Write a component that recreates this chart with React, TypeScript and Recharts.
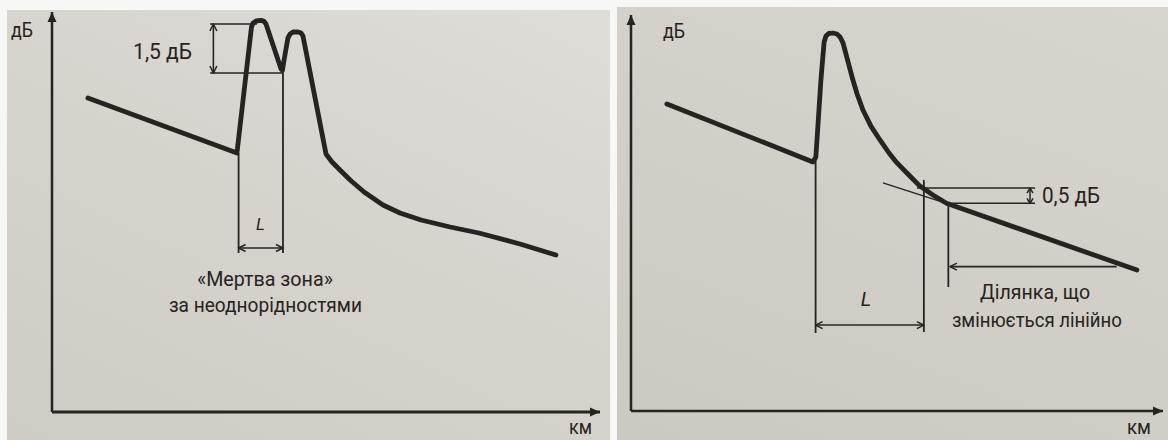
import React from 'react';
import { LineChart, Line, XAxis, YAxis, ReferenceLine, ReferenceDot } from 'recharts';

const INK = '#262321';
const FONT = "Roboto, 'DejaVu Sans', sans-serif";

// ---------- Left panel: trace with two close events (km / dB) ----------
const leftKm = [1.31, 6.75, 7.28, 7.34, 7.45, 7.63, 7.74, 7.81, 8.36, 8.41, 8.47, 8.61, 8.69, 8.8, 8.98, 9.09, 9.16, 10.0, 10.22, 10.51, 10.88, 11.39, 12.08, 12.7, 13.47, 14.53, 15.58, 17.08, 18.39];
const leftDb = [15.7, 12.95, 19.25, 19.45, 19.55, 19.58, 19.53, 19.4, 17.15, 17.08, 17.6, 18.7, 18.9, 19.0, 19.0, 18.95, 18.8, 12.9, 12.5, 12.1, 11.6, 11.0, 10.35, 9.95, 9.6, 9.25, 8.95, 8.4, 7.85];

// ---------- Right panel: trace with one reflective event ----------
const rightKm = [1.35, 6.84, 6.95, 7.14, 7.26, 7.33, 7.44, 7.59, 7.74, 7.86, 7.97, 8.12, 8.31, 8.5, 8.72, 9.02, 9.36, 9.7, 10.0, 10.41, 10.86, 11.35, 11.86, 19.02];
const rightDb = [15.51, 12.58, 12.83, 16.72, 18.64, 18.94, 19.07, 19.09, 19.04, 18.89, 18.59, 17.83, 16.87, 16.01, 15.2, 14.39, 13.69, 13.03, 12.53, 11.97, 11.36, 10.91, 10.49, 7.12];

// tangent (extension of the linear section)
const tangentKm = [9.47, 11.86];
const tangentDb = [11.52, 10.49];

// annotation values (km, dB)
const leftDeadZoneKm = [6.81, 8.43];
const leftPeakDb = [19.4, 16.95];
const rightDeadZoneKm = [6.94, 11.01];
const rightHalfDbLevels = [11.26, 10.49];
const linearStartKm = 11.93;
const linearArrowKm = [18.26, 11.99];

const leftData = leftKm.map((km, i) => ({ km, db: leftDb[i] }));
const rightData = rightKm.map((km, i) => ({ km, db: rightDb[i] }));

function head(xt: number, yt: number, xf: number, yf: number, len: number, half: number, filled: boolean, sw = 1.5) {
  const dx = xt - xf;
  const dy = yt - yf;
  const d = Math.hypot(dx, dy) || 1;
  const ux = dx / d;
  const uy = dy / d;
  const bx = xt - ux * len;
  const by = yt - uy * len;
  const px = -uy * half;
  const py = ux * half;
  if (filled) {
    return <polygon points={`${xt},${yt} ${bx + px},${by + py} ${bx - px},${by - py}`} fill={INK} />;
  }
  return (
    <polyline
      points={`${bx + px},${by + py} ${xt},${yt} ${bx - px},${by - py}`}
      fill="none"
      stroke={INK}
      strokeWidth={sw}
      strokeLinejoin="round"
    />
  );
}

const dimShape = (start: boolean, end: boolean, width = 1.6, len = 7, half = 3.5) => (p: any) => {
  const { x1, y1, x2, y2 } = p;
  return (
    <g>
      <line x1={x1} y1={y1} x2={x2} y2={y2} stroke={INK} strokeWidth={width} />
      {start ? head(x1, y1, x2, y2, len, half, false) : null}
      {end ? head(x2, y2, x1, y1, len, half, false) : null}
    </g>
  );
};

const axisHead = (dir: 'up' | 'right') => (p: any) => {
  const { cx, cy } = p;
  return dir === 'up' ? head(cx, cy, cx, cy + 10, 10, 4.5, true) : head(cx, cy, cx - 10, cy, 10, 4.5, true);
};

const textShape = (
  text: string,
  size: number,
  anchor: 'start' | 'middle' | 'end',
  length?: number,
  italic = false,
) => (p: any) => (
  <text
    x={p.cx}
    y={p.cy}
    fontSize={size}
    fontFamily={FONT}
    fontStyle={italic ? 'italic' : 'normal'}
    fill={INK}
    textAnchor={anchor}
    textLength={length}
    lengthAdjust={length ? 'spacingAndGlyphs' : undefined}
  >
    {text}
  </text>
);

const axisLabel = (text: string, dx: number, dy: number, fromRight: boolean, length: number, size = 21) => (props: any) => {
  const vb = props && props.viewBox ? props.viewBox : props;
  const x = (fromRight ? vb.x + vb.width : vb.x) + dx;
  const y = vb.y + dy;
  return (
    <text x={x} y={y} fontSize={size} fontFamily={FONT} fill={INK} textLength={length} lengthAdjust="spacingAndGlyphs">
      {text}
    </text>
  );
};

export default function App() {
  return (
    <div style={{ position: 'absolute', left: 0, top: 0, width: 1168, height: 440, background: '#f7f7f5', overflow: 'hidden' }}>
      <div
        style={{
          position: 'absolute',
          left: 7,
          top: 10,
          width: 603,
          height: 430,
          background: 'linear-gradient(205deg, #dfddd8 0%, #d7d4ce 45%, #cfccc5 100%)',
        }}
      >
        <LineChart width={603} height={430} data={leftData} margin={{ top: 2, right: 10, bottom: 0, left: 0 }}>
          <XAxis
            type="number"
            dataKey="km"
            domain={[0, 20]}
            tick={false}
            tickLine={false}
            height={28}
            axisLine={{ stroke: INK, strokeWidth: 3 }}
            label={axisLabel('км', -31, 22, true, 23, 20)}
          />
          <YAxis
            type="number"
            domain={[0, 20]}
            tick={false}
            tickLine={false}
            width={45}
            axisLine={{ stroke: INK, strokeWidth: 2.5 }}
            label={axisLabel('дБ', 4, 24.5, false, 22)}
          />
          <ReferenceDot x={20} y={0} r={0} ifOverflow="visible" shape={axisHead('right')} />
          <ReferenceDot x={0} y={20} r={0} ifOverflow="visible" shape={axisHead('up')} />

          <ReferenceLine segment={[{ x: 5.77, y: leftPeakDb[0] }, { x: 7.48, y: leftPeakDb[0] }]} shape={dimShape(false, false)} />
          <ReferenceLine segment={[{ x: 5.77, y: leftPeakDb[1] }, { x: 8.43, y: leftPeakDb[1] }]} shape={dimShape(false, false)} />
          <ReferenceLine segment={[{ x: 5.89, y: leftPeakDb[1] }, { x: 5.89, y: leftPeakDb[0] }]} shape={dimShape(true, true)} />
          <ReferenceLine segment={[{ x: leftDeadZoneKm[0], y: 12.95 }, { x: leftDeadZoneKm[0], y: 7.95 }]} shape={dimShape(false, false, 1.8)} />
          <ReferenceLine segment={[{ x: leftDeadZoneKm[1], y: 17.08 }, { x: leftDeadZoneKm[1], y: 7.95 }]} shape={dimShape(false, false, 1.8)} />
          <ReferenceLine segment={[{ x: leftDeadZoneKm[0], y: 8.2 }, { x: leftDeadZoneKm[1], y: 8.2 }]} shape={dimShape(true, true)} />

          <Line
            type="linear"
            dataKey="db"
            stroke={INK}
            strokeWidth={4.8}
            strokeLinejoin="round"
            strokeLinecap="round"
            dot={false}
            activeDot={false}
            isAnimationActive={false}
          />

          <ReferenceDot x={2.96} y={17.63} r={0} shape={textShape('1,5 дБ', 22, 'start', 59)} />
          <ReferenceDot x={7.61} y={9.1} r={0} shape={textShape('L', 17, 'middle', undefined, true)} />
          <ReferenceDot x={7.77} y={6.32} r={0} shape={textShape('«Мертва зона»', 21, 'middle', 136)} />
          <ReferenceDot x={7.79} y={5.0} r={0} shape={textShape('за неоднорідностями', 21, 'middle', 193)} />
        </LineChart>
      </div>

      <div
        style={{
          position: 'absolute',
          left: 617,
          top: 7,
          width: 551,
          height: 433,
          background: 'linear-gradient(200deg, #d8d5ce 0%, #d2cfc8 50%, #ccc9c1 100%)',
        }}
      >
        <LineChart width={551} height={433} data={rightData} margin={{ top: 8, right: 5, bottom: 0, left: 0 }}>
          <XAxis
            type="number"
            dataKey="km"
            domain={[0, 20]}
            tick={false}
            tickLine={false}
            height={29}
            axisLine={{ stroke: INK, strokeWidth: 2.5 }}
            label={axisLabel('км', -36, 23, true, 24, 20)}
          />
          <YAxis
            type="number"
            domain={[0, 20]}
            tick={false}
            tickLine={false}
            width={14}
            axisLine={{ stroke: INK, strokeWidth: 2.5 }}
            label={axisLabel('дБ', 46, 23, false, 22)}
          />
          <ReferenceDot x={20} y={0} r={0} ifOverflow="visible" shape={axisHead('right')} />
          <ReferenceDot x={0} y={20} r={0} ifOverflow="visible" shape={axisHead('up')} />

          <ReferenceLine
            segment={[{ x: tangentKm[0], y: tangentDb[0] }, { x: tangentKm[1], y: tangentDb[1] }]}
            shape={dimShape(false, false, 1.3)}
          />
          <ReferenceLine segment={[{ x: 10.75, y: rightHalfDbLevels[0] }, { x: 15.19, y: rightHalfDbLevels[0] }]} shape={dimShape(false, false)} />
          <ReferenceLine segment={[{ x: 11.86, y: rightHalfDbLevels[1] }, { x: 15.19, y: rightHalfDbLevels[1] }]} shape={dimShape(false, false)} />
          <ReferenceLine
            segment={[{ x: 15.0, y: rightHalfDbLevels[1] }, { x: 15.0, y: rightHalfDbLevels[0] }]}
            shape={dimShape(true, true, 1.5, 5, 3)}
          />
          <ReferenceLine segment={[{ x: rightDeadZoneKm[1], y: 11.67 }, { x: rightDeadZoneKm[1], y: 3.99 }]} shape={dimShape(false, false, 1.8)} />
          <ReferenceLine segment={[{ x: rightDeadZoneKm[0], y: 12.83 }, { x: rightDeadZoneKm[0], y: 3.94 }]} shape={dimShape(false, false, 1.8)} />
          <ReferenceLine segment={[{ x: rightDeadZoneKm[0], y: 4.34 }, { x: rightDeadZoneKm[1], y: 4.34 }]} shape={dimShape(true, true)} />
          <ReferenceLine segment={[{ x: linearStartKm, y: 10.49 }, { x: linearStartKm, y: 6.26 }]} shape={dimShape(false, false, 1.8)} />
          <ReferenceLine segment={[{ x: linearArrowKm[0], y: 7.29 }, { x: linearArrowKm[1], y: 7.29 }]} shape={dimShape(false, true)} />

          <Line
            type="linear"
            dataKey="db"
            stroke={INK}
            strokeWidth={4.8}
            strokeLinejoin="round"
            strokeLinecap="round"
            dot={false}
            activeDot={false}
            isAnimationActive={false}
          />

          <ReferenceDot x={15.45} y={10.5} r={0} shape={textShape('0,5 дБ', 22, 'start', 58)} />
          <ReferenceDot x={8.83} y={5.28} r={0} shape={textShape('L', 20, 'middle', undefined, true)} />
          <ReferenceDot x={15.19} y={5.68} r={0} shape={textShape('Ділянка, що', 21, 'middle', 110)} />
          <ReferenceDot x={15.26} y={4.24} r={0} shape={textShape('змінюється лінійно', 21, 'middle', 170)} />
        </LineChart>
      </div>
    </div>
  );
}
